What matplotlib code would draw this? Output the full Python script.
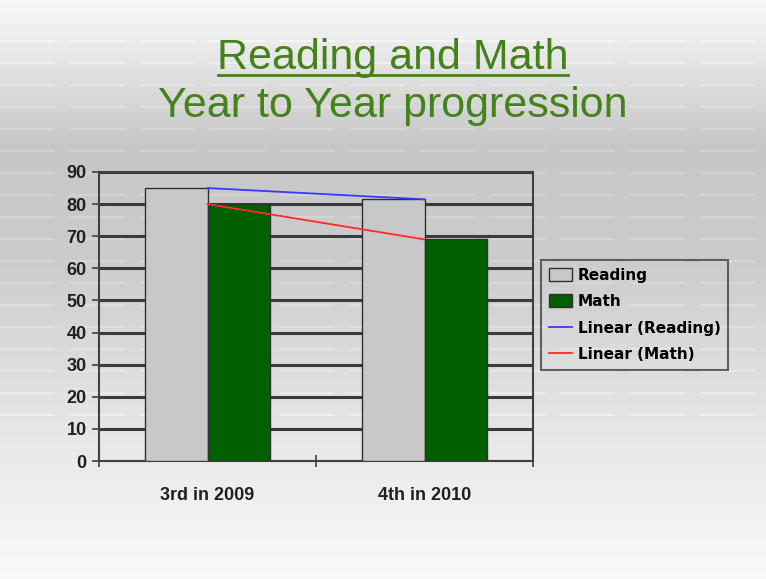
import matplotlib.pyplot as plt
import numpy as np

# ------------------------------
# Data
# ------------------------------
categories = ["3rd in 2009", "4th in 2010"]
reading = [85, 81.5]
math = [80, 69]
y_ticks = list(range(0, 91, 10))

title_line1 = "Reading and Math"
title_line2 = "Year to Year progression"

W, H = 766, 579
fig = plt.figure(figsize=(W / 100, H / 100), dpi=100)

# ------------------------------
# Background: grey gradient like the slide template
# ------------------------------
bg = fig.add_axes([0, 0, 1, 1], zorder=-10)
rows = np.linspace(0, 1, H)
stops_y = [0.0, 0.08, 0.25, 0.45, 0.7, 0.9, 1.0]
stops_v = [0.97, 0.92, 0.78, 0.80, 0.89, 0.95, 0.98]
col = np.interp(rows, stops_y, stops_v)
img = np.repeat(col[:, None], W, axis=1)
# faint dashed light bands
dash = (np.arange(W) % 70) < 55
for yy in range(40, 420, 22):
    img[yy:yy + 2, dash] = np.minimum(img[yy:yy + 2, dash] + 0.04, 1.0)
bg.imshow(np.dstack([img, img, img]), aspect="auto", extent=[0, 1, 0, 1])
bg.set_axis_off()

# ------------------------------
# Title
# ------------------------------
green = "#44821a"
fig.text(0.513, 1 - 69 / H, title_line1, ha="center", va="baseline",
         fontsize=31, color=green, family="Liberation Sans")
fig.add_artist(plt.Line2D([218 / W, 568 / W], [1 - 75 / H, 1 - 75 / H],
                          color=green, lw=2))
fig.text(0.513, 1 - 117 / H, title_line2, ha="center", va="baseline",
         fontsize=31, color=green, family="Liberation Sans")

# ------------------------------
# Chart
# ------------------------------
ax = fig.add_axes([99 / W, 1 - 461 / H, 434 / W, 289 / H])
ax.patch.set_alpha(0)

x = np.arange(len(categories)) + 0.5
bw = 0.286
b1 = ax.bar(x - bw / 2, reading, bw, color="#c8c8c8", edgecolor="#303030",
            linewidth=1, label="Reading", zorder=3)
b2 = ax.bar(x + bw / 2, math, bw, color="#006000", edgecolor="#303030",
            linewidth=1, label="Math", zorder=3)

# linear trend lines through the category centres
l1, = ax.plot(x, reading, color="#3a3aff", lw=1.3, label="Linear (Reading)", zorder=4)
l2, = ax.plot(x, math, color="#ff2a2a", lw=1.3, label="Linear (Math)", zorder=4)

ax.set_xlim(0, 2)
ax.set_ylim(0, 90)
ax.set_yticks(y_ticks)
ax.yaxis.grid(True, color="#3a3a3a", lw=2.2, zorder=1)
ax.set_axisbelow(True)

ax.set_xticks([0, 1, 2])
ax.set_xticklabels([])
ax.set_xticks(x, minor=True)
ax.set_xticklabels(categories, minor=True, fontsize=13, fontweight="bold",
                   family="Liberation Sans", color="#202020")
ax.tick_params(axis="x", which="minor", length=0, pad=19)
ax.tick_params(axis="x", which="major", length=9, direction="inout",
               color="#404040", width=1.2)
ax.tick_params(axis="y", length=10, direction="inout", color="#404040",
               width=1.2, labelsize=13, pad=4)
for lbl in ax.get_yticklabels():
    lbl.set_fontweight("bold")
    lbl.set_family("Liberation Sans")
    lbl.set_color("#202020")

for sp in ax.spines.values():
    sp.set_color("#404040")
    sp.set_linewidth(1.5)

leg = ax.legend([b1, b2, l1, l2],
                ["Reading", "Math", "Linear (Reading)", "Linear (Math)"],
                loc="upper left", bbox_to_anchor=(541 / W, 1 - 260 / H),
                bbox_transform=fig.transFigure, frameon=True, fancybox=False,
                prop={"family": "DejaVu Sans", "weight": "bold", "size": 11},
                handlelength=1.5, handleheight=0.9, handletextpad=0.4,
                labelspacing=0.75, borderpad=0.5, borderaxespad=0)
leg.get_frame().set_edgecolor("#404040")
leg.get_frame().set_facecolor("none")
leg.get_frame().set_linewidth(1.5)

fig.savefig("out.png", dpi=100)
